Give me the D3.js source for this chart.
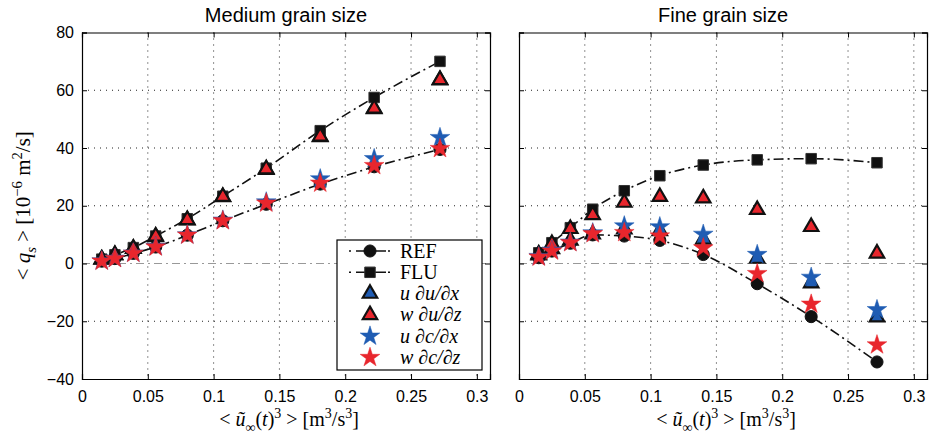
<!DOCTYPE html>
<html>
<head>
<meta charset="utf-8">
<script src="https://cdn.jsdelivr.net/npm/d3@7"></script>
<style>
  body { margin: 0; background: #fff; }
  .tick text { font-family: "Liberation Sans", Arial, sans-serif; font-size: 16px; }
</style>
</head>
<body>
<div id="chart"></div>
<script>
      // x positions (same for both grain sizes)
      var xVals = [0.015, 0.025, 0.039, 0.056, 0.08, 0.107, 0.14, 0.181, 0.222, 0.272];

      // medium grain size
      var medREF   = [0.8, 1.7, 3.5, 5.7, 9.8, 14.8, 20.5, 27.5, 33.5, 39.5];
      var medFLU   = [1.5, 3.0, 5.5, 9.5, 15.5, 23.3, 33.0, 46.0, 57.5, 70.0];
      var medUdudx = [1.4, 2.9, 5.1, 9.2, 15.0, 23.0, 32.5, 43.8, 53.5, 63.5];
      var medWdudz = [1.5, 3.0, 5.2, 9.4, 15.1, 23.1, 32.7, 44.0, 53.7, 63.6];
      var medUdcdx = [0.9, 1.8, 3.6, 5.9, 9.9, 15.0, 21.3, 29.3, 36.3, 43.6];
      var medWdcdz = [0.8, 1.7, 3.5, 5.7, 9.8, 14.8, 20.9, 27.8, 33.9, 39.8];

      // fine grain size
      var fineREF   = [2.0, 4.3, 7.0, 9.9, 9.5, 8.0, 3.1, -7.0, -18.4, -34.1];
      var fineFLU   = [3.7, 7.2, 12.4, 18.8, 25.2, 30.4, 34.1, 35.9, 36.3, 34.9];
      var fineUdudx = [2.9, 5.0, 8.0, 10.1, 11.9, 11.3, 8.3, 1.7, -6.8, -18.6];
      var fineWdudz = [3.2, 6.8, 12.0, 16.8, 21.1, 23.1, 22.6, 18.6, 12.7, 3.5];
      var fineUdcdx = [2.4, 4.6, 7.4, 10.6, 13.0, 12.7, 10.1, 3.1, -4.8, -16.0];
      var fineWdcdz = [2.2, 4.3, 7.2, 10.3, 10.7, 9.5, 5.4, -3.5, -14.1, -28.2];

      var xTicks = [0, 0.05, 0.1, 0.15, 0.2, 0.25, 0.3];
      var yTicks = [-40, -20, 0, 20, 40, 60, 80];
      var titles = ["Medium grain size", "Fine grain size"];
      var legendLabels = ["REF", "FLU", "u \u2202u/\u2202x", "w \u2202u/\u2202z", "u \u2202c/\u2202x", "w \u2202c/\u2202z"];

      var blue = "#1f5cb3", red = "#e8262d";
      var serif = "'Liberation Serif', 'Times New Roman', serif";

      var svg = d3.select("#chart").append("svg")
          .attr("width", 929)
          .attr("height", 445);

      var panelLeft = [82, 519];
      var panelW = 408;
      var plotTop = 32.5, plotBottom = 379;

      var yScale = d3.scaleLinear().domain([-40, 80]).range([plotBottom, plotTop]);

      var panels = [
        {ref: medREF, flu: medFLU, ududx: medUdudx, wdudz: medWdudz, udcdx: medUdcdx, wdcdz: medWdcdz},
        {ref: fineREF, flu: fineFLU, ududx: fineUdudx, wdudz: fineWdudz, udcdx: fineUdcdx, wdcdz: fineWdcdz}
      ];

      var dashDot = "10,4,2,4";

      // write text with italics / sub / superscripts
      function richText(sel, parts, size) {
        var prev = 0;
        parts.forEach(function(p) {
          var shift = 0;
          if (p.s == "sub") shift = size * 0.3;
          if (p.s == "sup") shift = -size * 0.4;
          sel.append("tspan")
            .attr("dy", shift - prev)
            .style("font-style", p.i ? "italic" : "normal")
            .style("font-size", (p.s ? size * 0.7 : size) + "px")
            .text(p.t);
          prev = shift;
        });
      }

      function symbolPath(type, size) {
        return d3.symbol().type(type).size(size)();
      }

      var markers = {
        ref: {type: d3.symbolCircle, size: 115, fill: "#111", stroke: "#111", sw: 1},
        flu: {type: d3.symbolSquare, size: 110, fill: "#111", stroke: "#333", sw: 1},
        ududx: {type: d3.symbolTriangle, size: 90, fill: blue, stroke: "#111", sw: 2.2},
        wdudz: {type: d3.symbolTriangle, size: 90, fill: red, stroke: "#111", sw: 2.2},
        udcdx: {type: d3.symbolStar, size: 120, fill: blue, stroke: blue, sw: 0.5},
        wdcdz: {type: d3.symbolStar, size: 120, fill: red, stroke: red, sw: 0.5}
      };

      panels.forEach(function(pd, k) {

        var x0 = panelLeft[k];
        var xScale = d3.scaleLinear().domain([0, 0.31]).range([x0, x0 + panelW]);

        var g = svg.append("g");

        // Create grids
        g.append("g")
          .selectAll("line")
          .data(xTicks.slice(1))
          .enter()
          .append("line")
          .attr("x1", function(d) { return xScale(d); })
          .attr("x2", function(d) { return xScale(d); })
          .attr("y1", plotTop).attr("y2", plotBottom)
          .attr("stroke", "#222").attr("stroke-width", 1)
          .attr("stroke-dasharray", "1,5");
        g.append("g")
          .selectAll("line")
          .data(yTicks.filter(function(d) { return d != 0 && d != 80 && d != -40; }))
          .enter()
          .append("line")
          .attr("x1", x0).attr("x2", x0 + panelW)
          .attr("y1", function(d) { return yScale(d); })
          .attr("y2", function(d) { return yScale(d); })
          .attr("stroke", "#222").attr("stroke-width", 1)
          .attr("stroke-dasharray", "1,5");

        // zero line
        g.append("line")
          .attr("x1", x0).attr("x2", x0 + panelW)
          .attr("y1", yScale(0)).attr("y2", yScale(0))
          .attr("stroke", "#999").attr("stroke-width", 1)
          .attr("stroke-dasharray", "8,4,2,4");

        // axes
        var xAxis = d3.axisBottom(xScale).tickValues(xTicks).tickSize(-5).tickPadding(12)
            .tickFormat(function(d) { return d == 0 ? "0" : String(d); });
        var xAxisTop = d3.axisTop(xScale).tickValues(xTicks).tickSize(-5).tickFormat("");
        var yAxis = d3.axisLeft(yScale).tickValues(yTicks).tickSize(-5).tickPadding(8);
        if (k == 1) yAxis.tickFormat("");
        var yAxisRight = d3.axisRight(yScale).tickValues(yTicks).tickSize(-5).tickFormat("");

        g.append("g").attr("transform", "translate(0," + plotBottom + ")").call(xAxis);
        g.append("g").attr("transform", "translate(0," + plotTop + ")").call(xAxisTop);
        g.append("g").attr("transform", "translate(" + x0 + ",0)").call(yAxis);
        g.append("g").attr("transform", "translate(" + (x0 + panelW) + ",0)").call(yAxisRight);
        g.selectAll(".domain").attr("stroke", "#000").attr("stroke-width", 1.2);
        g.selectAll(".tick line").attr("stroke", "#000");
        g.selectAll(".tick text").attr("fill", "#000");

        // titles
        g.append("text")
          .attr("x", x0 + panelW / 2).attr("y", 22)
          .attr("text-anchor", "middle")
          .style("font-family", "'Liberation Sans', Arial, sans-serif")
          .style("font-size", "20px")
          .text(titles[k]);

        // x label
        var xl = g.append("text")
          .attr("x", x0 + panelW / 2 + 3).attr("y", 426)
          .attr("text-anchor", "middle")
          .style("font-family", serif);
        richText(xl, [
          {t: "< "}, {t: "\u0169", i: true}, {t: "\u221e", s: "sub"}, {t: "("}, {t: "t", i: true}, {t: ")"},
          {t: "3", s: "sup"}, {t: " > [m"}, {t: "3", s: "sup"}, {t: "/s"}, {t: "3", s: "sup"}, {t: "]"}
        ], 20);

        // fitted lines
        var line = d3.line()
          .x(function(d, i) { return xScale(xVals[i]); })
          .y(function(d) { return yScale(d); })
          .curve(d3.curveMonotoneX);

        [pd.ref, pd.flu].forEach(function(series) {
          g.append("path")
            .datum(series)
            .attr("d", line)
            .attr("fill", "none")
            .attr("stroke", "#111")
            .attr("stroke-width", 1.6)
            .attr("stroke-dasharray", dashDot);
        });

        // markers
        ["ref", "flu", "ududx", "wdudz", "udcdx", "wdcdz"].forEach(function(key) {
          var m = markers[key];
          g.append("g")
            .selectAll("path")
            .data(pd[key])
            .enter()
            .append("path")
            .attr("d", symbolPath(m.type, m.size))
            .attr("transform", function(d, i) {
              return "translate(" + xScale(xVals[i]) + "," + yScale(d) + ")";
            })
            .attr("fill", m.fill)
            .attr("stroke", m.stroke)
            .attr("stroke-width", m.sw)
            .attr("stroke-linejoin", "miter");
        });
      });

      // y label
      var yl = svg.append("text")
        .attr("transform", "translate(30," + (plotTop + plotBottom) / 2 + ") rotate(-90)")
        .attr("text-anchor", "middle")
        .style("font-family", serif);
      richText(yl, [
        {t: "< "}, {t: "q", i: true}, {t: "s", i: true, s: "sub"}, {t: " > [10"}, {t: "\u22126", s: "sup"},
        {t: " m"}, {t: "2", s: "sup"}, {t: "/s]"}
      ], 21);

      // legend
      var leg = svg.append("g").attr("transform", "translate(337,240)");
      leg.append("rect")
        .attr("width", 145).attr("height", 130)
        .attr("fill", "#fff").attr("stroke", "#000").attr("stroke-width", 1.2);

      var legKeys = ["ref", "flu", "ududx", "wdudz", "udcdx", "wdcdz"];
      legKeys.forEach(function(key, i) {
        var yy = 11 + i * 21.3;
        var m = markers[key];
        if (i < 2) {
          leg.append("line")
            .attr("x1", 12).attr("x2", 53)
            .attr("y1", yy).attr("y2", yy)
            .attr("stroke", "#111").attr("stroke-width", 1.6)
            .attr("stroke-dasharray", "2,5,30");
        }
        leg.append("path")
          .attr("d", symbolPath(m.type, m.size))
          .attr("transform", "translate(33," + yy + ")")
          .attr("fill", m.fill)
          .attr("stroke", m.stroke)
          .attr("stroke-width", m.sw);
        leg.append("text")
          .attr("x", 63).attr("y", yy + 6.5)
          .style("font-family", serif)
          .style("font-size", "20px")
          .style("font-style", i < 2 ? "normal" : "italic")
          .text(legendLabels[i]);
      });
</script>
</body>
</html>
